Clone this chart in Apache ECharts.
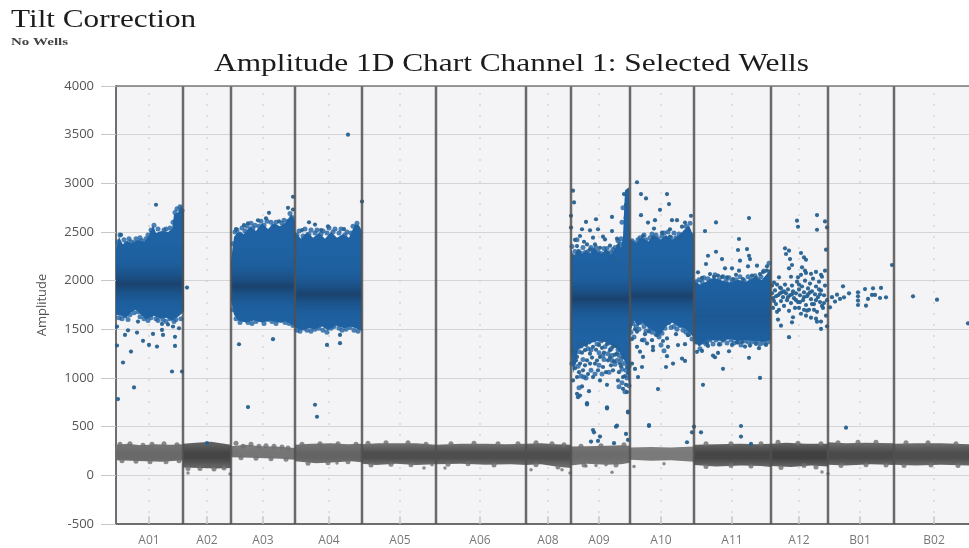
<!DOCTYPE html>
<html><head><meta charset="utf-8">
<style>html,body{margin:0;padding:0;background:#fff}#c{width:969px;height:548px;filter:blur(0.45px)}</style>
<script src="https://cdn.jsdelivr.net/npm/echarts@6/dist/echarts.min.js"></script>
</head><body><div id="c"></div>
<script>
// Wells: names and droplet-axis widths
const wellNames = ['A01','A02','A03','A04','A05','A06','A08','A09','A10','A11','A12','B01','B02'];
const wellStarts = [0,67,115,179,246,320,410,455,514,578,655,712,778];
const wellEnd = 853;
const wellLabelAt = [33,91,147,213,284,364,432,483,545,616,683,744,818];
const amplitudeTicks = {min:-500,max:4000,step:500};

// Positive droplet clouds: upper and lower edges [event, amplitude]
const cloudA01Top = [[0,2330],[3,2450],[7,2370],[11,2410],[16,2380],[22,2420],[28,2400],[33,2460],[37,2570],[40,2490],[46,2510],[52,2500],[56,2530],[58,2680],[62,2700],[65,2780],[68,2700]];
const cloudA01Bot = [[0,1650],[5,1640],[10,1620],[16,1680],[20,1700],[26,1640],[30,1600],[38,1640],[44,1610],[50,1620],[56,1590],[62,1630],[68,1680]];
const cloudA03Top = [[115,2200],[118,2450],[122,2500],[128,2480],[134,2560],[140,2510],[146,2590],[152,2530],[158,2590],[164,2560],[170,2600],[175,2680],[179,2620]];
const cloudA03Bot = [[115,1800],[118,1650],[122,1590],[130,1570],[138,1590],[146,1570],[154,1590],[162,1570],[170,1580],[179,1530]];
const cloudA04Top = [[179,2500],[185,2430],[191,2500],[197,2440],[203,2490],[209,2430],[215,2500],[221,2440],[227,2480],[233,2440],[239,2580],[243,2570],[246,2510]];
const cloudA04Bot = [[179,1520],[185,1490],[192,1510],[198,1500],[206,1530],[212,1490],[220,1540],[228,1510],[235,1530],[242,1500],[246,1480]];
const cloudA09Top = [[455,2320],[458,2250],[462,2330],[466,2270],[470,2310],[474,2280],[478,2340],[482,2290],[486,2280],[490,2330],[494,2260],[497,2300],[500,2340],[503,2400],[505,2340],[507,2450],[508,2700],[509,2930],[513,2960],[514,2500]];
const cloudA09Bot = [[455,1250],[457,1050],[460,1150],[462,1290],[470,1340],[480,1380],[490,1370],[500,1310],[505,1240],[510,1150],[512,1000],[514,850]];
const cloudA10Top = [[514,2420],[520,2390],[526,2450],[532,2400],[538,2470],[544,2420],[550,2470],[556,2420],[562,2460],[568,2520],[573,2570],[578,2440]];
const cloudA10Bot = [[514,1460],[518,1590],[522,1530],[526,1570],[532,1520],[538,1480],[544,1440],[550,1530],[556,1570],[562,1530],[568,1510],[574,1460],[578,1410]];
const cloudA11Top = [[578,2000],[584,1960],[590,1990],[598,2030],[606,2000],[614,1980],[622,2010],[630,1990],[638,2030],[646,2010],[651,2070],[655,2140]];
const cloudA11Bot = [[578,1400],[583,1320],[590,1380],[598,1390],[606,1380],[614,1400],[622,1380],[630,1390],[638,1380],[646,1370],[655,1390]];
const cloudCentres = [1985,1960,1880,1830,1860,1660];

// Negative droplet band edges per well [event, amplitude]
const greyTop = [
 [[0,315],[12,325],[25,310],[40,320],[55,315],[67,320]],
 [[67,325],[80,335],[95,345],[105,330],[115,315]],
 [[115,300],[130,315],[145,300],[160,295],[179,280]],
 [[179,315],[195,325],[215,330],[232,320],[246,325]],
 [[246,320],[262,330],[280,330],[300,330],[320,315]],
 [[320,315],[345,325],[370,325],[390,320],[410,325]],
 [[410,325],[425,330],[440,320],[455,315]],
 [[455,295],[470,300],[490,305],[505,310],[514,305]],
 [[514,285],[535,290],[555,285],[578,295]],
 [[578,315],[600,320],[625,325],[640,320],[655,325]],
 [[655,325],[670,335],[690,325],[712,325]],
 [[712,340],[730,330],[750,335],[778,330]],
 [[778,325],[800,330],[825,330],[853,320]]
];
const greyBot = [
 [[0,155],[15,150],[30,145],[45,140],[60,150],[67,155]],
 [[67,80],[85,75],[100,70],[115,75]],
 [[115,185],[135,180],[150,175],[165,170],[179,160]],
 [[179,145],[200,125],[220,135],[235,145],[246,135]],
 [[246,120],[260,105],[280,120],[300,105],[320,115]],
 [[320,115],[345,120],[370,110],[395,115],[410,105]],
 [[410,105],[425,115],[440,90],[455,75]],
 [[455,100],[470,120],[490,110],[505,115],[514,130]],
 [[514,160],[535,150],[555,155],[578,140]],
 [[578,105],[600,90],[625,100],[645,95],[655,85]],
 [[655,95],[675,85],[695,100],[712,90]],
 [[712,110],[730,100],[755,115],[778,105]],
 [[778,110],[800,100],[825,110],[853,100]]
];
const greyEdgeColours = ['#767676','#606060','#7e7e7e','#747474','#707070','#707070','#6a6a6a','#787878','#828282','#646464','#606060','#686868','#6a6a6a'];
const greyCoreColours = ['#696969','#454545','#757575','#646464','#4e4e4e','#4e4e4e','#4e4e4e','#6c6c6c','#7a7a7a','#464646','#404040','#4a4a4a','#4e4e4e'];

// Individual droplets
const dropsA01 = [[1,1334],[1,1528],[9,1443],[7,1159],[15,1272],[18,903],[21,1467],[22,1580],[27,1382],[33,1340],[37,1453],[41,1323],[46,1494],[47,1443],[46,1556],[56,1067],[57,1529],[59,1423],[59,1330],[66,1067],[2,783],[63,1511],[40,2780],[5,2472],[71,1929],[12,1490],[52,1550]];
const edgeA01 = [[2,2400],[4,2470],[6,2350],[8,2420],[10,2380],[13,2430],[15,2400],[18,2390],[20,2430],[24,2440],[26,2410],[30,2430],[32,2470],[35,2520],[38,2570],[36,2490],[42,2530],[44,2480],[48,2520],[50,2530],[54,2540],[57,2600],[59,2700],[61,2740],[64,2760],[66,2720],
 [3,1620],[6,1610],[9,1640],[12,1600],[14,1650],[18,1670],[22,1680],[24,1630],[28,1610],[32,1590],[35,1620],[40,1610],[42,1590],[47,1600],[50,1580],[54,1610],[58,1580],[60,1600],[65,1610]];
const dropsA03A04 = [[123,1347],[157,1399],[132,701],[153,2697],[172,2748],[177,2862],[177,2731],[132,2590],[142,2620],[199,725],[201,602],[211,1340],[224,1358],[224,1443],[232,3500],[246,2813],[193,2600],[199,2576],[212,2558],[150,2640],[163,2610],[120,2530],[128,2570],[205,2520],[228,2530],[186,2520]];
const edgeA03 = [[117,2380],[119,2500],[121,2520],[124,2480],[126,2540],[129,2510],[131,2560],[135,2590],[137,2540],[139,2570],[143,2560],[145,2610],[148,2570],[151,2610],[155,2600],[157,2560],[160,2600],[166,2590],[168,2620],[172,2610],[174,2690],[176,2650],
 [117,1700],[120,1610],[124,1570],[128,1600],[132,1570],[136,1560],[140,1580],[144,1600],[148,1560],[152,1600],[156,1580],[160,1560],[165,1590],[169,1570],[173,1560],[177,1540]];
const edgeA04 = [[181,2470],[183,2510],[187,2460],[189,2530],[193,2480],[195,2520],[199,2490],[201,2520],[205,2480],[207,2510],[211,2490],[213,2540],[217,2500],[219,2530],[223,2490],[225,2530],[229,2470],[231,2500],[235,2490],[237,2560],[241,2590],
 [181,1490],[184,1480],[188,1510],[191,1490],[195,1480],[199,1500],[203,1510],[207,1490],[211,1470],[215,1510],[218,1530],[223,1510],[226,1490],[230,1500],[234,1520],[238,1490],[242,1480]];
const dropsA09 = [[457,2925],[458,2804],[455,2666],[455,2545],[470,2604],[480,2631],[496,2655],[466,2528],[474,2517],[482,2528],[496,2510],[464,2459],[477,2442],[489,2424],[501,2431],[461,2355],[471,2372],[484,2338],[492,2286],[499,2217],[474,2321],[457,2252],[462,2286],[502,2355],[479,2372],[487,2452],[468,2400],[459,2420],[494,2360],[508,2890],[510,2780],
 [462,803],[464,820],[461,837],[471,741],[491,699],[466,913],[473,865],[457,975],[461,1010],[467,1079],[477,1010],[484,975],[491,930],[502,975],[507,889],[511,855],[504,1148],[497,1079],[487,1113],[474,1148],[464,1148],[461,1217],[469,1286],[477,1320],[484,1217],[494,1286],[501,1251],[507,1217],[511,1113],[457,1286],[464,1355],[487,1389],[497,1320],[479,1148],[492,1182],[471,1182],[482,1079],[507,1010],[512,654],[501,510],[477,465],[459,1100],[466,1260],[470,1340],[474,1250],[480,1290],[483,1340],[488,1260],[491,1350],[494,1210],[498,1170],[500,1330],[503,1060],[505,1120],[509,1020],[510,930],[512,1050],[460,1180],[463,1060],[469,1130],[472,1040],[476,1210],[481,1180],[486,1310],[490,1060],[495,1130],[499,1240]];
const edgeA09 = [[456,2350],[459,2300],[461,2420],[463,2300],[465,2280],[467,2340],[469,2290],[472,2300],[475,2340],[477,2310],[480,2340],[482,2300],[485,2280],[488,2330],[491,2330],[493,2250],[495,2290],[497,2320],[499,2340],[502,2410],[504,2380],[505,2430],[506,2600],[507,2750],[510,2650],
 [456,1150],[458,1250],[460,1320],[463,1270],[465,1330],[467,1190],[468,1360],[472,1300],[473,1370],[475,1290],[478,1390],[481,1350],[483,1260],[485,1380],[487,1230],[489,1320],[490,1400],[492,1250],[493,1360],[495,1300],[496,1230],[498,1340],[499,1140],[501,1180],[502,1290],[503,1230],[505,1190],[506,1090],[508,1150],[509,1240],[510,1080],[511,1000],[513,920],[506,950],[503,910],[509,860],[513,1120],[462,1120],[465,1020],[468,1010],[463,900],[470,1000],[475,1080],[479,1040],[483,1130],[486,1040],[488,1190],[493,1060],[496,1180]];
const dropsA10 = [[521,3011],[525,2890],[530,2845],[551,2890],[553,2787],[544,2728],[525,2673],[575,2666],[532,2597],[539,2621],[556,2621],[561,2621],[569,2597],[538,2535],[554,2528],[566,2555],[546,2493],[527,2459],[537,2442],[554,2452],[564,2431],[521,1320],[526,1113],[522,1010],[542,886],[519,1093],[537,1320],[536,1389],[526,1389],[551,1407],[551,1224],[550,1113],[557,1148],[566,1200],[569,1175],[562,1338],[569,1348],[552,1320],[521,1476],[516,1148],[527,1217],[531,1355],[537,1286],[533,516],[516,1400],[524,1270],[529,1450],[541,1440],[547,1380],[560,1450],[572,1440],[519,1500],[533,1480]];
const edgeA10 = [[516,2410],[518,2390],[522,2420],[524,2440],[528,2470],[530,2420],[534,2440],[536,2480],[540,2470],[542,2430],[546,2460],[548,2490],[552,2500],[555,2440],[558,2490],[560,2440],[563,2480],[566,2460],[570,2560],[572,2520],[574,2590],[576,2470],
 [515,1470],[517,1560],[520,1530],[523,1500],[525,1570],[528,1530],[530,1480],[534,1510],[536,1470],[540,1450],[543,1420],[546,1460],[549,1510],[553,1570],[555,1520],[558,1530],[561,1500],[564,1540],[567,1490],[570,1470],[573,1450],[576,1400],[518,1420],[528,1390],[545,1340],[548,1280]];
const dropsA11 = [[589,2510],[600,2598],[633,2643],[623,2428],[600,2297],[592,2256],[606,2222],[622,2315],[631,2325],[633,2256],[634,2222],[624,2205],[641,2154],[590,2171],[609,2127],[616,2127],[632,2147],[623,2103],[582,2086],[594,2068],[602,2051],[611,2034],[636,2051],[644,2068],[651,2147],[651,2103],[627,2017],[617,2017],[586,2030],[598,2040],[606,2040],[620,2060],[640,2030],[647,2090],[607,1094],[599,1213],[602,1258],[586,1278],[597,1230],[633,1207],[643,1306],[613,1275],[629,1323],[634,1333],[621,1367],[591,1360],[581,1367],[607,1384],[644,1001],[587,930],[592,1330],[616,1340],[626,1370],[640,1350],[581,1269],[603,1345],[650,1340]];
const edgeA11 = [[580,1990],[583,2010],[586,1990],[588,2030],[592,2020],[595,2000],[599,2060],[603,2010],[607,2040],[610,2000],[613,2030],[616,1990],[620,2010],[624,2040],[628,2000],[632,2040],[635,2010],[639,2050],[642,2010],[645,2040],[648,2100],[653,2180],
 [580,1370],[584,1300],[587,1370],[590,1350],[594,1390],[597,1350],[600,1390],[604,1350],[608,1400],[611,1360],[615,1390],[618,1360],[622,1370],[625,1340],[628,1380],[632,1370],[636,1370],[640,1380],[644,1350],[648,1360],[652,1370]];
const dropsA12 = [[701,2674],[709,2609],[681,2616],[682,2554],[701,2523],[711,2547],[669,2332],[673,2308],[670,2274],[685,2284],[688,2239],[690,2215],[674,2222],[676,2161],[673,2127],[710,2318],[709,2103],[686,2137],[689,2103],[682,2034],[663,2034],[673,1419],[665,1538],[662,1600],[676,1572],[677,1624],[705,1504],[711,1531],[701,1579],[691,1692],
 [657,1820],[659,1900],[660,1760],[661,1960],[662,1850],[663,1700],[664,1930],[665,1790],[666,1880],[667,1830],[668,1740],[669,1960],[670,1870],[671,1800],[672,1910],[673,1690],[674,1850],[675,1770],[676,1950],[677,1890],[678,1820],[679,1720],[680,1870],[681,1990],[682,1780],[683,1910],[684,1850],[685,1660],[686,1940],[687,1800],[688,1880],[689,2000],[690,1750],[691,1840],[692,1920],[693,1700],[694,1970],[695,1810],[696,1890],[697,2020],[698,1760],[699,1860],[700,1940],[701,1680],[702,1830],[703,1990],[704,1780],[705,1900],[706,2040],[707,1720],[708,1850],[709,1950],[710,1640],[711,1800],[660,1840],[664,1870],[668,1890],[672,1830],[676,1860],[680,1800],[684,1780],[688,1830],[692,1860],[696,1760],[700,1800],[704,1860],[708,1770],[665,1920],[683,1960],[694,1880],[703,1910],[706,1740],[698,1700],[690,1640],[695,1620],[700,1610],[705,1580],[688,1700],[683,1720],[685,2060],[695,2070],[700,2090],[705,2060],[675,2040],[690,2080],[656,1870],[658,1790],[656,1950],[658,1980],[657,1720],[661,1680]];
const dropsB = [[727,1942],[721,1856],[733,1870],[728,1829],[724,1812],[719,1785],[714,1726],[749,1914],[757,1921],[765,1925],[742,1880],[742,1839],[742,1795],[742,1750],[750,1743],[752,1812],[756,1853],[759,1853],[764,1822],[770,1829],[776,2161],[797,1839],[821,1805],[852,1562],[730,490],[716,1830]];
const dropsMid = [[471,728],[491,687],[512,646],[500,500],[478,442],[484,398],[482,354],[475,347],[498,330],[510,425],[512,364],[533,507],[578,500],[576,442],[585,442],[571,340],[625,507],[625,398],[635,323],[91,332]];
const dropsGrey = [[221,127],[72,24],[114,14],[496,31],[518,92],[548,119],[706,34],[712,17],[454,24],[446,58],[329,75],[308,75],[415,58],[316,109],[480,100],[490,110],[470,95]];
const greyEdgeDrops = [[4,320],[14,325],[27,310],[36,320],[48,325],[61,315],[6,150],[20,145],[34,140],[50,140],[63,150],[72,70],[84,70],[98,65],[108,75],[120,330],[127,300],[135,320],[143,300],[150,305],[158,300],[166,290],[172,280],[125,180],[140,175],[155,170],[170,165],
 [186,320],[204,325],[222,325],[240,320],[192,125],[212,130],[232,140],[252,330],[270,335],[292,335],[310,320],[255,105],[275,115],[295,110],[335,325],[358,330],[382,325],[402,325],[332,115],[352,120],[378,105],[420,335],[436,325],[448,315],[420,110],[442,85],[465,300],[485,305],[508,315],[468,105],[500,105],[590,325],[615,325],[645,325],[590,90],[615,100],[635,95],[662,340],[682,330],[705,325],[665,80],[688,100],[700,85],[722,335],[742,340],[760,340],[725,100],[750,110],[770,105],[790,335],[812,335],[840,325],[788,100],[815,105],[842,100]];

const clouds = [
  [cloudA01Top,cloudA01Bot],[cloudA03Top,cloudA03Bot],[cloudA04Top,cloudA04Bot],
  [cloudA09Top,cloudA09Bot],[cloudA10Top,cloudA10Bot],[cloudA11Top,cloudA11Bot]
];
const edgeDrops = [].concat(edgeA01,edgeA03,edgeA04,edgeA09,edgeA10,edgeA11);
const allBlueDrops = [].concat(dropsA01,dropsA03A04,dropsA09,dropsA10,dropsA11,dropsA12,dropsB,dropsMid);

const chart = echarts.init(document.getElementById('c'));
const font = '"Open Sans", sans-serif';
const serif = '"Liberation Serif"';

function polygon(top,bot,api,fill){
  const pts = top.concat(bot.slice().reverse()).map(p=>api.coord(p));
  return {type:'polygon',shape:{points:pts},style:{fill:fill}};
}
function vLine(x,y0,y1,api,style){
  const a=api.coord([x,y0]), b=api.coord([x,y1]);
  return {type:'line',shape:{x1:a[0],y1:a[1],x2:b[0],y2:b[1]},style:style};
}

chart.setOption({
  animation:false,
  backgroundColor:'#ffffff',
  graphic:[
    {type:'text',x:11,y:20,scaleX:1.2,style:{text:'Tilt Correction',fontFamily:serif,fontSize:26,fill:'#1c1c1c',align:'left',verticalAlign:'middle'}},
    {type:'text',x:11,y:42,scaleX:1.5,style:{text:'No Wells',fontFamily:serif,fontSize:10,fontWeight:'bold',fill:'#444',align:'left',verticalAlign:'middle'}},
    {type:'text',x:214,y:64,scaleX:1.23,style:{text:'Amplitude 1D Chart Channel 1: Selected Wells',fontFamily:serif,fontSize:25.5,fill:'#1c1c1c',align:'left',verticalAlign:'middle'}}
  ],
  grid:{left:116,top:86,right:0,bottom:24,show:true,backgroundColor:'#f4f4f6',borderWidth:0},
  xAxis:{type:'value',min:0,max:wellEnd,show:true,axisLabel:{show:false},axisTick:{show:false},splitLine:{show:false},
    axisLine:{show:true,onZero:false,lineStyle:{color:'#6e6e6e',width:2}}},
  yAxis:{type:'value',min:amplitudeTicks.min,max:amplitudeTicks.max,interval:amplitudeTicks.step,
    name:'Amplitude',nameLocation:'middle',nameGap:67,nameRotate:90,
    nameTextStyle:{fontFamily:font,fontSize:13,color:'#555'},
    axisLabel:{fontFamily:font,fontSize:13,color:'#555',margin:22,formatter:v=>String(v)},
    axisTick:{show:true,length:15,lineStyle:{color:'#c8c8c8'}},
    axisLine:{show:true,onZero:false,lineStyle:{color:'#6e6e6e',width:2}},
    splitLine:{show:true,lineStyle:{color:'#d4d4d4',width:1.2}}},
  series:[
    {type:'custom',name:'centre rules',z:1,silent:true,data:wellLabelAt.map(x=>[x,0]),
      renderItem:(p,api)=>({type:'group',children:[
        vLine(api.value(0),amplitudeTicks.min,amplitudeTicks.max,api,{stroke:'#cfcfcf',lineWidth:1.2,lineDash:[2,9]}),
        vLine(api.value(0),amplitudeTicks.min,-420,api,{stroke:'#bbbbbb',lineWidth:1.2})
      ]})},
    {type:'scatter',name:'grey edge droplets',z:2,silent:true,symbolSize:5,itemStyle:{color:'#6e6e6e'},data:greyEdgeDrops},
    {type:'custom',name:'negative band',z:2,silent:true,data:wellStarts.map(x=>[x,200]),
      renderItem:(p,api)=>{
        const i=p.dataIndex;
        const a=api.coord([0,320])[1], b=api.coord([0,100])[1];
        const fill=new echarts.graphic.LinearGradient(0,a,0,b,[
          {offset:0,color:greyEdgeColours[i]},{offset:0.4,color:greyCoreColours[i]},
          {offset:0.65,color:greyCoreColours[i]},{offset:1,color:greyEdgeColours[i]}],true);
        return polygon(greyTop[i],greyBot[i],api,fill);
      }},
    {type:'scatter',name:'grey droplets',z:2,silent:true,symbolSize:3.5,itemStyle:{color:'#707070'},data:dropsGrey},
    {type:'custom',name:'positive clouds',z:3,silent:true,data:clouds.map((c,i)=>[c[0][0][0],cloudCentres[i]]),
      renderItem:(p,api)=>{
        const i=p.dataIndex, c=cloudCentres[i], strong=i<5;
        const a=api.coord([0,c+420])[1], b=api.coord([0,c-420])[1];
        const fill=new echarts.graphic.LinearGradient(0,a,0,b,[
          {offset:0,color:'#1f63a4'},{offset:0.28,color:'#1d5e9d'},
          {offset:0.44,color:strong?'#1b4f84':'#1d5b98'},{offset:0.52,color:strong?'#1a426e':'#1c5894'},
          {offset:0.62,color:strong?'#1b5289':'#1d5b98'},{offset:0.75,color:'#1d5e9d'},{offset:1,color:'#1f63a4'}],true);
        return polygon(clouds[i][0],clouds[i][1],api,fill);
      }},
    {type:'scatter',name:'cloud edge droplets',z:3,silent:true,symbolSize:5,itemStyle:{color:'#1f62a2'},data:edgeDrops},
    {type:'scatter',name:'blue droplets',z:4,silent:true,symbolSize:4.2,itemStyle:{color:'#25608f',opacity:0.95},data:allBlueDrops},
    {type:'custom',name:'well dividers',z:5,silent:true,data:wellStarts.slice(1).map(x=>[x,0]),
      renderItem:(p,api)=>vLine(api.value(0),amplitudeTicks.min,amplitudeTicks.max,api,{stroke:'#505050',lineWidth:2.5,opacity:0.85})},
    {type:'custom',name:'top rule',z:5,silent:true,data:[[0,amplitudeTicks.max]],
      renderItem:(p,api)=>{const a=api.coord([0,amplitudeTicks.max]),b=api.coord([wellEnd,amplitudeTicks.max]);
        return {type:'line',shape:{x1:a[0],y1:a[1],x2:b[0],y2:b[1]},style:{stroke:'#7a7a7a',lineWidth:1.5}};}},
    {type:'scatter',name:'well labels',z:6,silent:true,clip:false,symbolSize:0,
      data:wellNames.map((n,i)=>({name:n,value:[wellLabelAt[i],amplitudeTicks.min]})),
      label:{show:true,position:'bottom',distance:11,formatter:'{b}',fontFamily:font,fontSize:12,color:'#555'}}
  ]
});
</script></body></html>
